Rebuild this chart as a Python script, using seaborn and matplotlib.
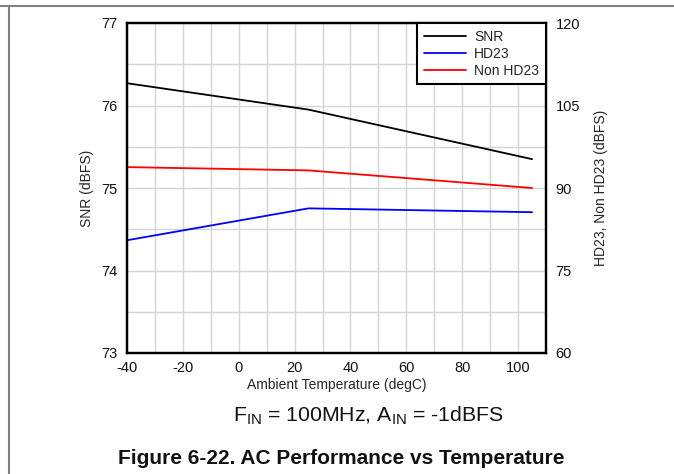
import matplotlib
matplotlib.use("Agg")
import matplotlib.pyplot as plt
import seaborn as sns
import pandas as pd
from matplotlib.lines import Line2D

sns.set_theme(style="white")
plt.rcParams['font.family'] = ['Liberation Sans', 'DejaVu Sans']
plt.rcParams['mathtext.fontset'] = 'custom'
plt.rcParams['mathtext.rm'] = 'Liberation Sans'
plt.rcParams['mathtext.it'] = 'Liberation Sans'

temperature = [-40, 25, 105]
snr = [76.27, 75.95, 75.35]
hd23 = [80.5, 86.3, 85.6]
non_hd23 = [93.8, 93.2, 90.0]

x_ticks = [-40, -20, 0, 20, 40, 60, 80, 100]
left_ticks = [73, 74, 75, 76, 77]
right_ticks = [60, 75, 90, 105, 120]

df_left = pd.DataFrame({"T": temperature, "v": snr, "s": "SNR"})
df_right = pd.concat([
    pd.DataFrame({"T": temperature, "v": hd23, "s": "HD23"}),
    pd.DataFrame({"T": temperature, "v": non_hd23, "s": "Non HD23"}),
])

fig = plt.figure(figsize=(6.74, 4.74), dpi=100)
ax = fig.add_axes([127/674, 1-353/474, (546-127)/674, (353-23)/474])
ax2 = ax.twinx()

lw = 1.3
sns.lineplot(data=df_left, x="T", y="v", color="black", lw=lw, ax=ax, legend=False)
sns.lineplot(data=df_right, x="T", y="v", hue="s", palette={"HD23": "#0000ff", "Non HD23": "#ff0000"},
             lw=lw, ax=ax2, legend=False)

ax.set_xlim(-40, 110)
ax.set_ylim(73, 77)
ax2.set_ylim(60, 120)
ax.set_xticks(x_ticks)
ax.set_xticklabels([str(t) for t in x_ticks])
ax.set_xticks(range(-40, 111, 10), minor=True)
ax.set_yticks(left_ticks)
ax.set_yticks([73 + 0.5*i for i in range(9)], minor=True)
ax2.set_yticks(right_ticks)

ax.grid(True, which="both", color="#d4d4d4", lw=1.0)
ax.set_axisbelow(True)
ax.tick_params(axis="both", which="both", length=0, labelsize=10.5, pad=6, colors="#111111")
ax.tick_params(axis="y", pad=7)
ax2.tick_params(axis="y", length=0, labelsize=10.5, pad=7, colors="#111111")

for a in (ax, ax2):
    for sp in a.spines.values():
        sp.set_visible(True)
        sp.set_color("black")
        sp.set_linewidth(1.6)

ax.set_xlabel("Ambient Temperature (degC)", fontsize=10, labelpad=2)
ax.set_ylabel("SNR (dBFS)", fontsize=10, labelpad=5)
ax2.set_ylabel("HD23, Non HD23 (dBFS)", fontsize=10, labelpad=10)

handles = [Line2D([], [], color="black", lw=lw),
           Line2D([], [], color="#0000ff", lw=lw),
           Line2D([], [], color="#ff0000", lw=lw)]
leg = ax2.legend(handles, ["SNR", "HD23", "Non HD23"], loc="upper right",
                 bbox_to_anchor=(1.0, 1.0), borderaxespad=0, fontsize=10,
                 frameon=True, fancybox=False, handlelength=3.0, handletextpad=0.6,
                 labelspacing=0.2, borderpad=0.5)
leg.get_frame().set_edgecolor("black")
leg.get_frame().set_linewidth(1.5)
leg.get_frame().set_alpha(1)

fig.text(368/674, 1-416/474, r"F$_{\mathrm{IN}}$ = 100MHz, A$_{\mathrm{IN}}$ = -1dBFS",
         ha="center", va="center", fontsize=15.3, color="#111111")
fig.text(341/674, 1-459/474, "Figure 6-22. AC Performance vs Temperature",
         ha="center", va="center", fontsize=15, fontweight="bold", color="#111111")

# page decoration lines
fig.add_artist(Line2D([0, 1], [1-6/474, 1-6/474], transform=fig.transFigure, color="#808080", lw=1.5))
fig.add_artist(Line2D([9/674, 9/674], [0, 1-6/474], transform=fig.transFigure, color="#808080", lw=1.5))

fig.savefig("out.png", dpi=100)
